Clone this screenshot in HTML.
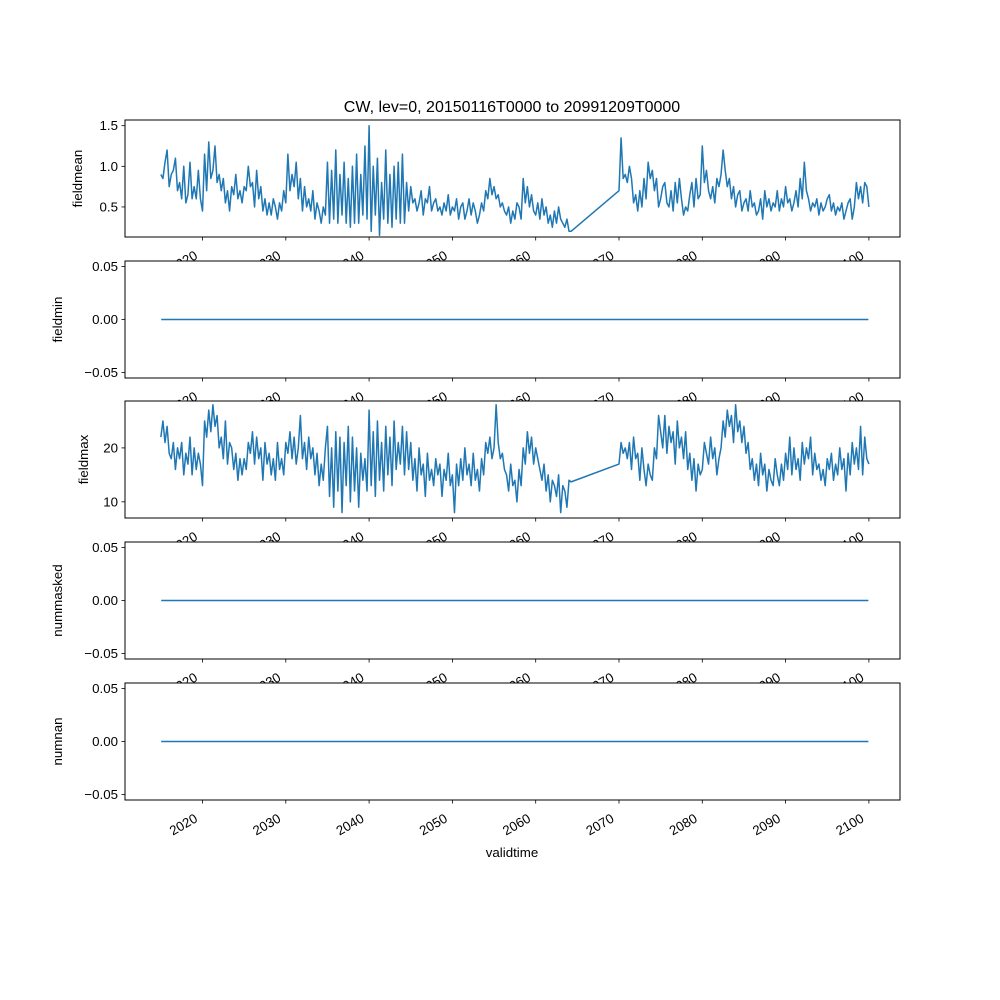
<!DOCTYPE html>
<html><head><meta charset="utf-8"><style>
html,body{margin:0;padding:0;background:#fff}
svg{display:block;font-family:"Liberation Sans","DejaVu Sans",sans-serif}
</style></head><body>
<svg id="fig" width="1000" height="1000" viewBox="0 0 1000 1000">
<text x="512" y="112" text-anchor="middle" font-size="16">CW, lev=0, 20150116T0000 to 20991209T0000</text>
<g id="panels"></g>
<text x="512" y="857" text-anchor="middle" font-size="13.3">validtime</text>
</svg>
<script>
// time grid: quarter-year samples, segment A 2015.0..2064.25, segment B 2070.0..2100.0
const segAStart = 2015, segBStart = 2070, step = 0.25;
const xTicks = [2020,2030,2040,2050,2060,2070,2080,2090,2100];
const meanA = [0.9,0.85,1.05,1.2,0.75,0.9,0.95,1.1,0.7,0.8,0.6,1.0,0.55,0.65,1.05,0.6,0.75,0.6,0.95,0.6,
0.45,1.15,0.7,1.3,0.85,0.95,1.25,0.8,0.9,0.7,0.85,0.55,0.7,0.45,0.75,0.65,0.9,0.6,0.7,0.55,
0.75,0.7,1.0,0.75,0.8,0.5,0.95,0.6,0.75,0.45,0.6,0.4,0.55,0.4,0.6,0.5,0.35,0.55,0.45,0.7,
0.55,1.15,0.7,0.9,0.75,1.05,0.6,0.85,0.45,0.75,0.5,0.6,0.45,0.7,0.35,0.55,0.45,0.3,0.5,0.4,
1.05,0.3,0.95,0.35,1.2,0.3,0.9,0.4,1.05,0.3,0.85,0.25,1.0,0.3,1.15,0.3,0.9,0.4,1.25,0.35,
1.5,0.2,1.0,0.4,1.1,0.15,0.8,0.35,1.2,0.3,0.9,0.25,1.0,0.35,1.05,0.3,1.15,0.3,0.8,0.45,
0.75,0.55,0.6,0.45,0.55,0.7,0.4,0.6,0.55,0.75,0.45,0.55,0.6,0.45,0.5,0.4,0.55,0.45,0.65,0.4,
0.5,0.45,0.6,0.35,0.5,0.55,0.35,0.45,0.6,0.4,0.55,0.45,0.3,0.4,0.55,0.45,0.7,0.6,0.85,0.65,
0.75,0.6,0.65,0.5,0.55,0.45,0.4,0.5,0.3,0.45,0.35,0.55,0.5,0.35,0.85,0.55,0.75,0.5,0.65,0.45,
0.4,0.55,0.35,0.6,0.4,0.5,0.3,0.4,0.25,0.45,0.3,0.5,0.35,0.3,0.25,0.35,0.2,0.2];
const meanB = [0.7,1.35,0.85,0.9,0.8,1.0,0.85,0.55,0.65,0.45,0.7,0.5,0.85,0.6,1.05,0.85,0.95,0.7,0.85,0.5,
0.6,0.75,0.8,0.55,0.5,0.7,0.45,0.8,0.55,0.85,0.6,0.4,0.5,0.45,0.65,0.8,0.5,0.85,0.6,0.65,
1.25,0.8,0.95,0.7,0.6,0.75,0.55,0.85,0.75,0.9,1.2,0.95,0.75,0.85,0.6,0.75,0.5,0.65,0.7,0.45,
0.55,0.6,0.45,0.7,0.5,0.55,0.4,0.45,0.6,0.35,0.7,0.5,0.6,0.45,0.55,0.5,0.7,0.45,0.6,0.5,
0.75,0.55,0.6,0.45,0.55,0.7,0.5,0.85,0.6,1.05,0.7,0.6,0.45,0.55,0.5,0.6,0.4,0.55,0.45,0.5,
0.6,0.65,0.45,0.55,0.4,0.5,0.45,0.55,0.35,0.45,0.55,0.6,0.35,0.5,0.8,0.6,0.75,0.55,0.8,0.75,0.5];
const maxA = [22,25,21,24,19,18,21,16,20,18,21,15,19,17,22,15,20,16,19,17,
13,25,22,27,23,28,24,26,20,22,18,25,17,21,20,16,19,14,18,15,
18,16,21,19,23,17,22,18,20,14,21,17,19,15,18,14,21,16,18,15,
21,19,23,18,22,17,20,26,18,21,16,22,18,20,15,19,13,17,14,20,
24,11,20,9,23,12,22,8,21,13,24,10,22,12,20,9,19,14,18,12,
27,13,23,11,25,14,21,12,24,15,22,13,25,16,21,17,24,15,23,16,
21,14,18,12,20,15,17,11,19,14,16,13,18,15,17,11,16,14,19,13,
15,8,17,13,18,14,20,15,17,13,19,14,16,12,18,15,21,19,22,18,
20,28,21,18,19,16,15,12,17,13,14,10,16,13,20,17,23,19,22,17,
20,18,16,14,17,12,15,10,14,13,11,15,8,13,12,9,14,13.7];
const maxB = [17,21,19,20,18,21,16,22,18,19,14,20,16,13,17,15,14,20,18,26,
23,20,26,19,24,21,23,17,25,20,22,18,23,16,19,14,18,12,17,15,
16,21,19,17,22,18,20,15,18,20,25,22,27,24,26,21,28,23,25,21,
24,19,21,16,18,14,17,13,19,15,17,12,16,14,13,18,15,13,17,14,
19,16,22,15,20,16,18,14,21,17,20,18,22,15,19,16,17,14,16,13,
18,16,19,14,17,15,20,16,18,12,19,15,21,17,20,16,24,15,22,18,17];
const zeroSeries = [0, 0];
const zeroTimes = [2015.04, 2099.94];

const NS="http://www.w3.org/2000/svg";
const L=125,R=900,H=117;
function xs(t){return 202.5+(t-2020)*8.33;}
function mk(tag,attrs,parent){const e=document.createElementNS(NS,tag);for(const k in attrs)e.setAttribute(k,attrs[k]);parent.appendChild(e);return e;}
const root=document.getElementById('panels');
const panels=[
 {name:'fieldmean',top:120,lo:0.13,hi:1.57,ticks:[0.5,1.0,1.5],lab:['0.5','1.0','1.5'],ylx:82,series:[[meanA,meanB]]},
 {name:'fieldmin',top:261,lo:-0.0552,hi:0.0552,ticks:[-0.05,0,0.05],lab:['\u22120.05','0.00','0.05'],ylx:62,flat:true},
 {name:'fieldmax',top:401,lo:7.0,hi:28.7,ticks:[10,20],lab:['10','20'],ylx:88,series:[[maxA,maxB]]},
 {name:'nummasked',top:542,lo:-0.0552,hi:0.0552,ticks:[-0.05,0,0.05],lab:['\u22120.05','0.00','0.05'],ylx:62,flat:true},
 {name:'numnan',top:683,lo:-0.0552,hi:0.0552,ticks:[-0.05,0,0.05],lab:['\u22120.05','0.00','0.05'],ylx:62,flat:true}
];
panels.forEach(p=>{
 const g=mk('g',{},root);
 
 
 const bot=p.top+H;
 const ys=v=>bot-(v-p.lo)/(p.hi-p.lo)*H;
 const bg=mk('rect',{x:L,y:p.top,width:R-L,height:H,fill:'#fff'},g);
 
 
 let d='';
 if(p.flat){
  zeroTimes.forEach((t,i)=>{d+=(i?'L':'M')+xs(t).toFixed(2)+' '+ys(zeroSeries[i]).toFixed(2);});
 } else {
  const [A,B]=p.series[0];
  A.forEach((v,i)=>{d+=(i?'L':'M')+xs(segAStart+i*step).toFixed(2)+' '+ys(v).toFixed(2);});
  B.forEach((v,i)=>{d+='L'+xs(segBStart+i*step).toFixed(2)+' '+ys(v).toFixed(2);});
 }
 const ln=mk('path',{d:d,fill:'none',stroke:'#1f77b4','stroke-width':1.5,'stroke-linejoin':'round'},g);
 
 
 mk('rect',{x:L,y:p.top,width:R-L,height:H,fill:'none',stroke:'#000','stroke-width':1},g);
 p.ticks.forEach((v,i)=>{
  const y=ys(v);
  mk('line',{x1:L-3.5,x2:L,y1:y,y2:y,stroke:'#000','stroke-width':0.8},g);
  const t=mk('text',{x:L-7,y:y+4.5,'text-anchor':'end','font-size':13.3},g);
  t.textContent=p.lab[i];
  
  
 });
 const yl=mk('text',{x:p.ylx,y:p.top+H/2,'text-anchor':'middle','font-size':13.3,transform:'rotate(-90 '+p.ylx+' '+(p.top+H/2)+')'},g);
 yl.textContent=p.name;
 
 
 xTicks.forEach(t=>{
  const x=xs(t);
  mk('line',{x1:x,x2:x,y1:bot,y2:bot+3.5,stroke:'#000','stroke-width':0.8},g);
  const tx=x-4,ty=bot+21;
  const lb=mk('text',{x:tx,y:ty,'text-anchor':'end','font-size':13.3,transform:'rotate(-30 '+tx+' '+ty+')'},g);
  lb.textContent=String(t);
  
  
 });
});
</script>
</body></html>
